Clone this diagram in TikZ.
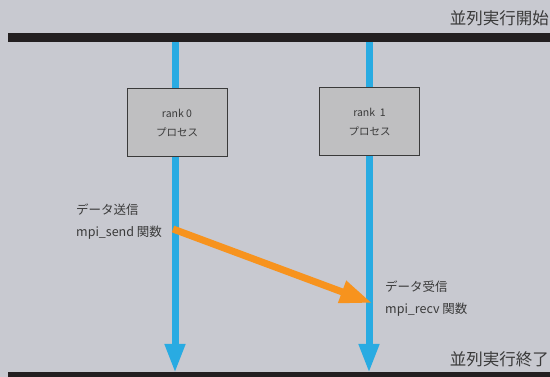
\documentclass[tikz,border=0pt]{standalone}
\usepackage{fontspec}
\setmainfont{Noto Sans CJK JP}
\usetikzlibrary{arrows.meta}
\definecolor{bg}{HTML}{C8C9D0}
\definecolor{bar}{HTML}{231F20}
\definecolor{flow}{HTML}{29ABE2}
\definecolor{msg}{HTML}{F7931E}
\definecolor{boxfill}{HTML}{BFBFC1}
\definecolor{txt}{HTML}{3A3A3A}
\tikzset{
  timebar/.style={fill=bar, draw=none},
  procbox/.style={draw=txt, line width=1pt, fill=boxfill, minimum width=100pt, minimum height=68pt, inner sep=0pt, align=center, font=\fontsize{10.5}{19.5}\selectfont, text=txt},
  flowline/.style={draw=flow, line width=7pt, -{Triangle[width=19pt,length=29pt]}},
  msgline/.style={draw=msg, line width=7pt, -{Triangle[width=22pt,length=32pt]}},
  lbl/.style={font=\fontsize{12.5}{22}\selectfont, text=txt, align=left, anchor=west, inner sep=0pt},
  title/.style={font=\fontsize{16.5}{18}\selectfont, text=txt, anchor=east, inner sep=0pt},
}
\begin{document}
\begin{tikzpicture}[x=1pt,y=-1pt]
\fill[bg] (0,0) rectangle (550,377);
\useasboundingbox (0,0) rectangle (550,377);
% bars
\node[timebar, minimum width=542pt, minimum height=9pt, inner sep=0pt, anchor=north west] (topbar) at (8,33) {};
\node[timebar, minimum width=542pt, minimum height=6pt, inner sep=0pt, anchor=north west] (botbar) at (8,372) {};
\node[title] (start) at (549,18) {並列実行開始};
\node[title] (finish) at (549,359) {並列実行終了};
% flow lines
\coordinate (t0) at (175,42);
\coordinate (e0) at (175,373);
\coordinate (t1) at (369,42);
\coordinate (e1) at (369,373);
\draw[flowline] (t0) -- (e0);
\draw[flowline] (t1) -- (e1);
% boxes
\node[procbox] (p0) at (177,123) {rank 0\\プロセス};
\node[procbox] (p1) at (369.5,122) {rank\ \ 1\\プロセス};
% labels
\node[lbl] (send) at (76,222) {データ送信\\mpi\_send 関数};
\node[lbl] (recv) at (385,299) {データ受信\\mpi\_recv 関数};
% message
\coordinate (ms) at (173,229);
\coordinate (me) at (372,303);
\draw[msgline, line cap=butt] (ms) -- (me);
\end{tikzpicture}
\end{document}
